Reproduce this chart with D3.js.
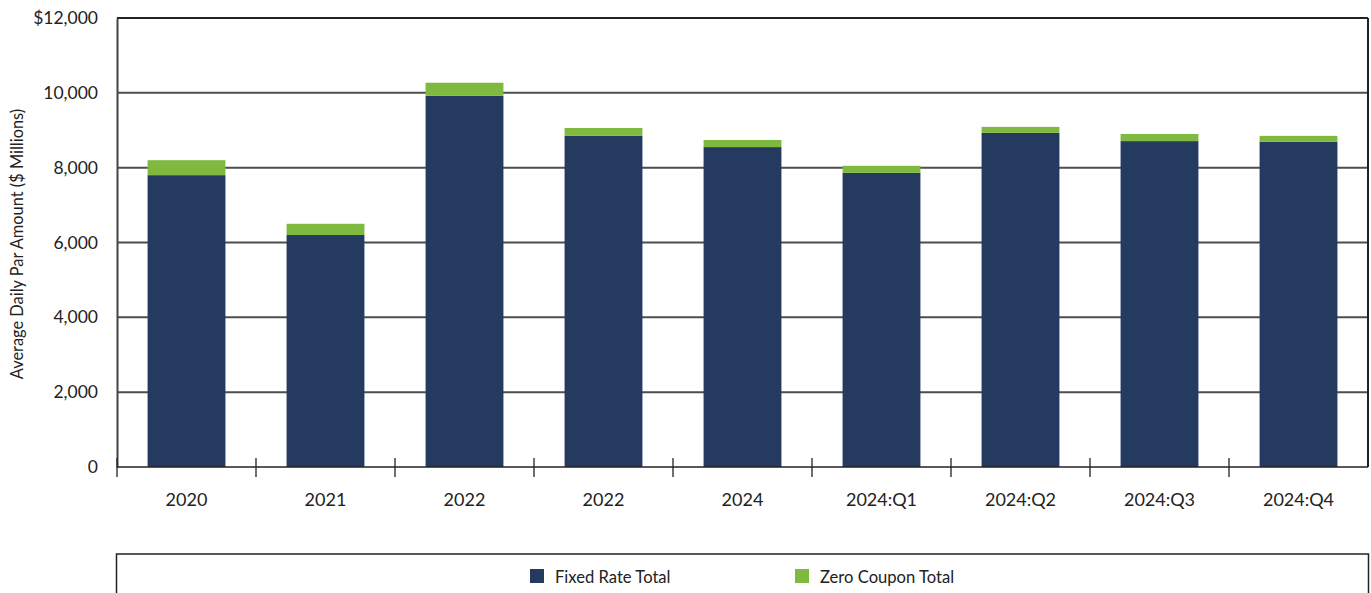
<!DOCTYPE html>
<html><head><meta charset="utf-8">
<script src="https://cdn.jsdelivr.net/npm/d3@7"></script>
<style>body{margin:0;background:#fff;}svg{display:block;font-family:Lato,"Open Sans",sans-serif;}</style>
</head><body><svg id="c" width="1371" height="593"></svg>
<script>
const categories = ["2020","2021","2022","2022","2024","2024:Q1","2024:Q2","2024:Q3","2024:Q4"];
const fixedRate = [7800,6200,9920,8850,8550,7860,8930,8710,8690];
const zeroCoupon = [400,300,350,210,190,190,160,190,160];
const yTicks = [0,2000,4000,6000,8000,10000,12000];
const seriesNames = ["Fixed Rate Total","Zero Coupon Total"];
const colors = ["#253a5f","#80b940"];

const svg = d3.select("#c");
const L=117, R=1368, T=18, B=467;
const x = d3.scaleBand().domain(d3.range(categories.length)).range([L,R]).paddingInner(0.44).paddingOuter(0.22);
const y = d3.scaleLinear().domain([0,12000]).range([B,T]);

// gridlines
svg.append("g").selectAll("line").data(yTicks.filter(d=>d>0)).join("line")
  .attr("x1",L).attr("x2",R).attr("y1",d=>y(d)).attr("y2",d=>y(d))
  .attr("stroke",d=>d===12000?"#222":"#4d4d4d").attr("stroke-width",2);

// right border
svg.append("line").attr("x1",R).attr("x2",R).attr("y1",T).attr("y2",B).attr("stroke","#222").attr("stroke-width",2);

const rows = categories.map((c,i)=>({i, f:fixedRate[i], z:zeroCoupon[i]}));
const stack = d3.stack().keys(["f","z"])(rows);
svg.append("g").selectAll("g").data(stack).join("g").attr("fill",(d,k)=>colors[k])
  .selectAll("rect").data(d=>d).join("rect")
  .attr("x",d=>x(d.data.i)).attr("width",x.bandwidth())
  .attr("y",d=>y(d[1])).attr("height",d=>y(d[0])-y(d[1]));

// left axis
const ya = svg.append("g").attr("transform",`translate(${L},0)`)
  .call(d3.axisLeft(y).tickValues(yTicks).tickSize(0).tickPadding(19)
    .tickFormat(d=>d===12000?"$"+d3.format(",")(d):d3.format(",")(d)));
ya.select(".domain").attr("stroke","#444").attr("stroke-width",2);
ya.selectAll("text").attr("font-size",17.5).attr("fill","#222").attr("font-family","Lato, 'Open Sans', sans-serif");

// bottom axis
const bounds = d3.range(categories.length+1).map(k=>L + k*(R-L)/categories.length);
svg.append("line").attr("x1",L).attr("x2",R).attr("y1",B).attr("y2",B).attr("stroke","#222").attr("stroke-width",1.3);
svg.append("g").selectAll("line").data(bounds.slice(0,-1)).join("line")
  .attr("x1",d=>d).attr("x2",d=>d).attr("y1",B-9).attr("y2",B+10).attr("stroke","#222").attr("stroke-width",1.3);
svg.append("g").selectAll("text").data(categories).join("text")
  .attr("x",(d,i)=>x(i)+x.bandwidth()/2).attr("y",506).attr("text-anchor","middle")
  .attr("font-size",18).attr("fill","#222").text(d=>d);

// y title
svg.append("text").attr("transform",`translate(23,244) rotate(-90)`).attr("text-anchor","middle")
  .attr("font-size",16.4).attr("fill","#222").text("Average Daily Par Amount ($ Millions)");

// legend box
svg.append("rect").attr("x",116.5).attr("y",554).attr("width",1252).attr("height",45)
  .attr("fill","none").attr("stroke","#222").attr("stroke-width",1.5);
const lx=[530,795];
const lg = svg.append("g").selectAll("g").data(seriesNames).join("g").attr("transform",(d,i)=>`translate(${lx[i]},569)`);
lg.append("rect").attr("width",14).attr("height",14).attr("fill",(d,i)=>colors[i]);
lg.append("text").attr("x",25).attr("y",14).attr("font-size",16.6).attr("fill","#222").text(d=>d);
</script></body></html>
